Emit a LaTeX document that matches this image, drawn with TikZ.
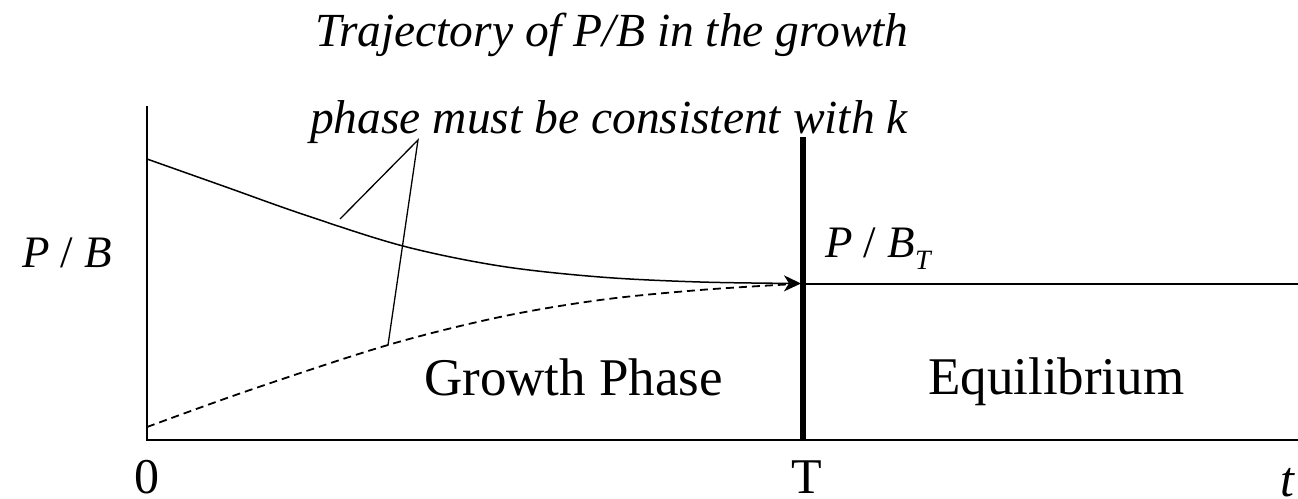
\documentclass[tikz,border=0pt]{standalone}
\usepackage{fontspec}
\setmainfont{Liberation Serif}
\usetikzlibrary{arrows.meta}
\begin{document}
\begin{tikzpicture}[x=1pt,y=-1pt,
  axisline/.style={line width=1.8pt},
  curveline/.style={line width=1.5pt},
  dashline/.style={line width=1.8pt,dash pattern=on 8pt off 5pt},
  calloutline/.style={line width=1.3pt},
  titletext/.style={anchor=base,inner sep=0pt,font=\fontsize{47.5}{56}\selectfont\itshape},
  labeltext/.style={anchor=base west,inner sep=0pt,font=\fontsize{53}{60}\selectfont},
  axislabel/.style={anchor=base,inner sep=0pt,font=\fontsize{50}{60}\selectfont},
  pbtext/.style={anchor=base west,inner sep=0pt,font=\fontsize{45}{54}\selectfont}]
\useasboundingbox (0,0) rectangle (1298,498);
% axes
\coordinate (Ytop) at (147,106);
\coordinate (O) at (147,440);
\coordinate (Xend) at (1302,440);
\draw[axisline] (Ytop) -- (O) -- (Xend);
% time T line
\coordinate (Ttop) at (803,137);
\coordinate (Tbot) at (803,441);
\draw[line width=5.5pt] (Ttop) -- (Tbot);
% equilibrium level
\coordinate (Eq) at (803,283.5);
\coordinate (Eqend) at (1302,283.5);
\draw[line width=2pt] (Eq) -- (Eqend);
% solid trajectory
\draw[curveline,-{Stealth[length=17pt,width=16pt,inset=5pt]}] plot[smooth,tension=0.55] coordinates
 {(147,159) (226,187) (305,215) (403,246) (500,266) (600,277) (700,282) (801,283.5)};
% dashed trajectory
\draw[dashline] plot[smooth,tension=0.55] coordinates
 {(147,427) (250,390) (388,345) (500,317) (600,300) (700,290) (795,284)};
% callout
\coordinate (apex) at (418,140);
\coordinate (c1) at (340,219);
\coordinate (c2) at (388,345);
\draw[calloutline] (c1) -- (apex) -- (c2);
% texts
\node[titletext] (title1) at (612,46) {Trajectory of P/B in the growth};
\node[titletext] (title2) at (609,133) {phase must be consistent with k};
\node[labeltext] (growth) at (424,395) {Growth Phase};
\node[labeltext] (equil) at (928,394) {Equilibrium};
\node[pbtext] (pb) at (22,267) {\itshape P\upshape{} / \itshape B};
\node[pbtext] (pbt) at (825,257) {\itshape P\upshape{} / \itshape B\raisebox{-0.28em}{\fontsize{28}{30}\selectfont T}};
\node[axislabel] (zero) at (147,493) {0};
\node[axislabel] (tT) at (807,493) {T};
\node[axislabel,anchor=base west] (tt) at (1280,496) {\itshape t};
\end{tikzpicture}
\end{document}
